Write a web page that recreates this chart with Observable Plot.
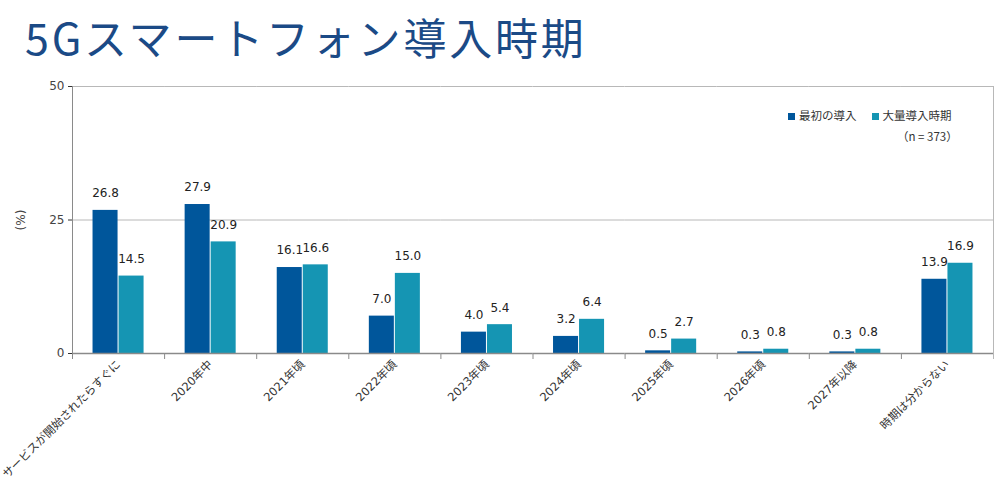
<!DOCTYPE html>
<html>
<head>
<meta charset="utf-8">
<script src="https://cdn.jsdelivr.net/npm/d3@7"></script>
<script src="https://cdn.jsdelivr.net/npm/@observablehq/plot@0.6"></script>
<style>
  body { margin: 0; background: #fff; font-family: "DejaVu Sans", "Noto Sans CJK JP", sans-serif; }
  #title { height: 76px; box-sizing: border-box; padding-left: 25px; padding-top: 8px; font-family: "Noto Sans CJK JP", sans-serif; font-size: 43px; line-height: 56px; color: #1b4a86; letter-spacing: 2.8px; white-space: nowrap; }
  #wrap { position: relative; width: 1000px; }
  .legend { position: absolute; font-family: "Noto Sans CJK JP", sans-serif; font-size: 11.5px; color: #333; white-space: nowrap; }
  .sw { display: inline-block; width: 7px; height: 7px; margin-right: 4px; vertical-align: -0px; }
</style>
</head>
<body>
<div id="title">5Gスマートフォン導入時期</div>
<div id="wrap"></div>
<script>
const categories = ["サービスが開始されたらすぐに", "2020年中", "2021年頃", "2022年頃", "2023年頃", "2024年頃", "2025年頃", "2026年頃", "2027年以降", "時期は分からない"];
const seriesNames = ["最初の導入", "大量導入時期"];
const firstAdoption = [26.8, 27.9, 16.1, 7.0, 4.0, 3.2, 0.5, 0.3, 0.3, 13.9];
const massAdoption = [14.5, 20.9, 16.6, 15.0, 5.4, 6.4, 2.7, 0.8, 0.8, 16.9];
const colors = ["#00569b", "#1595b3"];
const yTicks = [0, 25, 50];
const sampleNote = "（n = 373）";

const data = [];
categories.forEach((c, i) => {
  data.push({category: c, series: seriesNames[0], value: firstAdoption[i]});
  data.push({category: c, series: seriesNames[1], value: massAdoption[i]});
});

const chart = Plot.plot({
  width: 1000,
  height: 423,
  marginLeft: 72,
  marginRight: 7,
  marginTop: 10,
  marginBottom: 146,
  style: {fontFamily: '"DejaVu Sans", "Noto Sans CJK JP", sans-serif', fontSize: "12px", color: "#333", background: "#fff"},
  fx: {domain: categories, padding: 0, round: false},
  x: {domain: seriesNames, paddingInner: 0, paddingOuter: 0.77, axis: null, round: false},
  y: {domain: [0, 50]},
  color: {domain: seriesNames, range: colors},
  marks: [
    Plot.ruleY([25, 50], {stroke: "#b8b8b8"}),
    Plot.barY(data, {fx: "category", x: "series", y: "value", fill: "series", insetLeft: 0.5, insetRight: 0.5}),
    Plot.text(data, {fx: "category", x: "series", y: "value", text: d => d.value.toFixed(1), dy: -17, fill: "#222", fontSize: 12}),
    Plot.ruleY([0], {stroke: "#8a8a8a", strokeWidth: 1.5}),
    Plot.frame({anchor: "left", insetTop: 267, insetBottom: -5, stroke: "#8a8a8a"}),
    Plot.frame({anchor: "left", facet: "super", insetBottom: -5, stroke: "#8a8a8a"}),
    Plot.frame({anchor: "right", facet: "super", insetBottom: -5, stroke: "#b8b8b8"}),
    Plot.axisY({ticks: yTicks, tickSize: 4, tickPadding: 4, label: "(%)", labelAnchor: "center", labelArrow: "none", labelOffset: 56, fill: "#444"}),
    Plot.axisFx({anchor: "bottom", tickRotate: -45, tickSize: 0, tickPadding: 9, label: null, fill: "#333", fontSize: 11.5})
  ]
});
const wrap = document.getElementById("wrap");
wrap.appendChild(chart);

const l1 = document.createElement("div");
l1.className = "legend";
l1.style.left = "788px"; l1.style.top = "31px";
l1.innerHTML = `<span class="sw" style="background:${colors[0]}"></span>${seriesNames[0]}<span style="display:inline-block;width:15px"></span><span class="sw" style="background:${colors[1]}"></span>${seriesNames[1]}`;
wrap.appendChild(l1);
const l2 = document.createElement("div");
l2.className = "legend";
l2.style.left = "897px"; l2.style.top = "52px";
l2.textContent = sampleNote;
wrap.appendChild(l2);
</script>
</body>
</html>
